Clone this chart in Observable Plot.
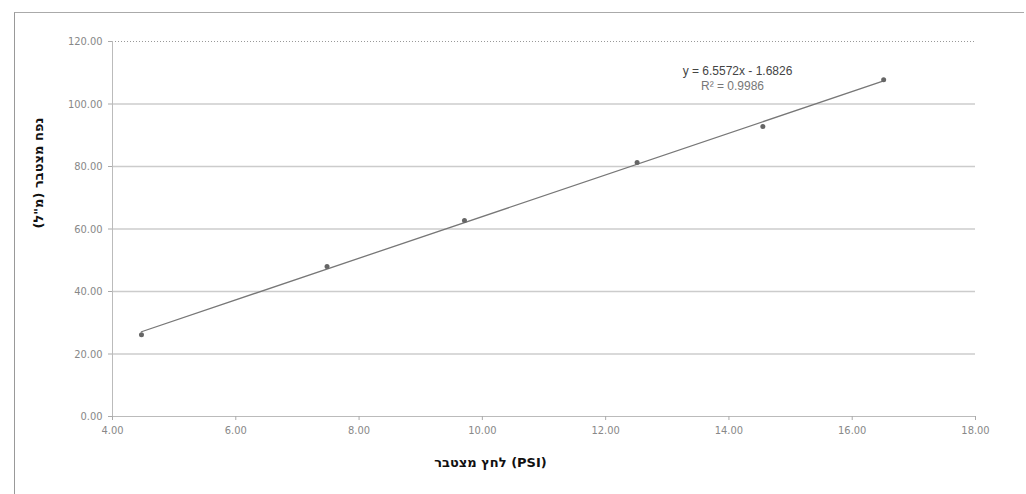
<!DOCTYPE html>
<html><head><meta charset="utf-8">
<script src="https://cdn.jsdelivr.net/npm/d3@7"></script>
<script src="https://cdn.jsdelivr.net/npm/@observablehq/plot@0.6"></script>
<style>
body{margin:0;background:#fff;}
#wrap{position:relative;width:1026px;height:494px;}
#border{position:absolute;left:14px;top:12px;width:1010px;height:490px;border-left:1px solid #999;border-top:1px solid #aaa;box-sizing:border-box;}
svg{position:absolute;left:0;top:0;}
</style></head>
<body><div id="wrap"><div id="border"></div></div>
<script>
const pressure = [4.47, 7.48, 9.71, 12.51, 14.55, 16.51];
const volume = [26.2, 48.0, 62.7, 81.3, 92.8, 107.8];
const xTicks = [4, 6, 8, 10, 12, 14, 16, 18];
const yTicks = [0, 20, 40, 60, 80, 100, 120];
const equationText = "y = 6.5572x - 1.6826";
const r2Text = "R² = 0.9986";
const xLabel = "לחץ מצטבר (PSI)";
const yLabel = "נפח מצטבר (מ\"ל)";

const data = pressure.map((p, i) => ({x: p, y: volume[i]}));
const fmt = d3.format(".2f");
const tickFont = "Liberation Sans Narrow, Arial Narrow, DejaVu Sans Condensed, sans-serif";

const chart = Plot.plot({
  width: 1026, height: 494,
  marginLeft: 112, marginRight: 51, marginTop: 41, marginBottom: 78,
  style: {fontFamily: tickFont, fontSize: "11px", color: "#888", background: "transparent"},
  x: {domain: [4, 18], ticks: xTicks, tickFormat: fmt, label: null},
  y: {domain: [0, 120], ticks: yTicks, tickFormat: fmt, label: null},
  marks: [
    Plot.gridY(yTicks.filter(d => d > 0 && d < 120), {stroke: "#ccc", strokeOpacity: 1, strokeWidth: 1.5}),
    Plot.ruleY([120], {stroke: "#999", strokeDasharray: "1,2"}),
    Plot.ruleY([0], {stroke: "#bbb"}),
    Plot.ruleX([4], {stroke: "#bbb"}),
    Plot.axisX({ticks: xTicks, tickFormat: fmt, tickSize: 4, tickPadding: 6, stroke: "#aaa", fill: "#888"}),
    Plot.axisY({ticks: yTicks, tickFormat: fmt, tickSize: 4, tickPadding: 6, stroke: "#aaa", fill: "#888"}),
    Plot.linearRegressionY(data, {x: "x", y: "y", ci: 0, stroke: "#777", strokeWidth: 1.3}),
    Plot.dot(data, {x: "x", y: "y", r: 2.5, fill: "#666", stroke: "none"}),
    Plot.text([equationText], {frameAnchor: "top-left", dx: 737 - 112, dy: 25, text: d => d, fill: "#444", fontSize: 12, fontFamily: "Liberation Sans, Arial, sans-serif", textAnchor: "middle"}),
    Plot.text([r2Text], {frameAnchor: "top-left", dx: 732 - 112, dy: 40, text: d => d, fill: "#777", fontSize: 12, fontFamily: "Liberation Sans, Arial, sans-serif", textAnchor: "middle"}),
    Plot.text([xLabel], {frameAnchor: "bottom", dx: 490 - (112 + (1026 - 51 - 112) / 2), dy: 50, text: d => d, fill: "#111", fontWeight: "bold", fontSize: 13, fontFamily: "DejaVu Sans, sans-serif"}),
    Plot.text([yLabel], {frameAnchor: "left", dx: -74, dy: 228 - (41 + 375 / 2), rotate: -90, text: d => d, fill: "#111", fontWeight: "bold", fontSize: 13, fontFamily: "DejaVu Sans, sans-serif"})
  ]
});
document.getElementById("wrap").appendChild(chart);
</script></body></html>
